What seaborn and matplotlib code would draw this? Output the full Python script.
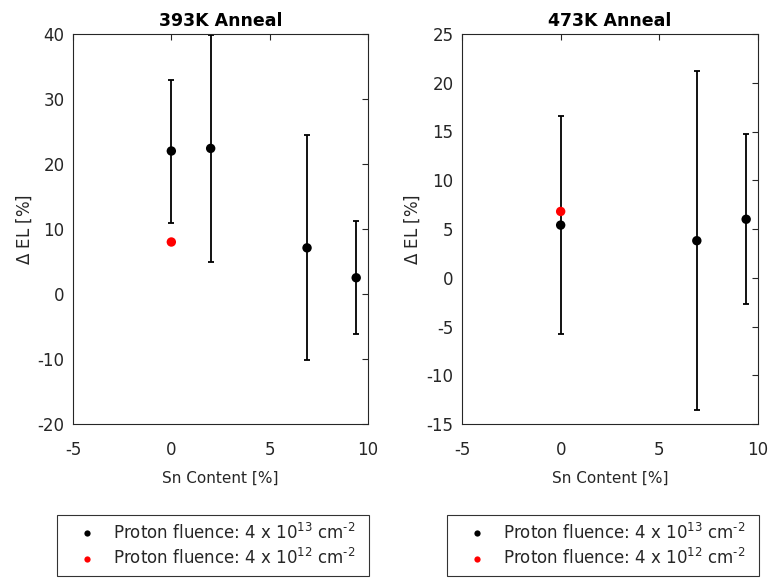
import numpy as np
import pandas as pd
import matplotlib
matplotlib.use("Agg")
import matplotlib.pyplot as plt
import seaborn as sns

# Sn content [%] and change in EL [%] with uncertainties
sn_hi = [0.0, 2.0, 6.9, 9.4]          # samples at 4e13 cm^-2
el_393_hi = [22.0, 22.4, 7.1, 2.5]
err_393_hi = [11.0, 17.5, 17.3, 8.7]
sn_lo = [0.0]                          # sample at 4e12 cm^-2
el_393_lo = [8.0]

sn_hi_473 = [0.0, 6.9, 9.4]
el_473_hi = [5.4, 3.8, 6.0]
err_473_hi = [11.2, 17.4, 8.7]
el_473_lo = [6.8]

titles = ["393K Anneal", "473K Anneal"]
label_hi = r"Proton fluence: 4 x 10$^{13}$ cm$^{\text{-2}}$"
label_lo = r"Proton fluence: 4 x 10$^{12}$ cm$^{\text{-2}}$"
xticks = [-5, 0, 5, 10]
yticks_393 = [-20, -10, 0, 10, 20, 30, 40]
yticks_473 = [-15, -10, -5, 0, 5, 10, 15, 20, 25]

sns.set_theme(style="white")
plt.rcParams["font.family"] = ["DejaVu Sans"]
plt.rcParams["mathtext.default"] = "regular"
plt.rcParams["axes.unicode_minus"] = False

fig = plt.figure(figsize=(7.72, 5.78), dpi=100)
ax1 = fig.add_axes([73 / 772, 1 - 424 / 578, 295 / 772, 390 / 578])
ax2 = fig.add_axes([462 / 772, 1 - 424 / 578, 296 / 772, 390 / 578])

gray = "#262626"
palette = {label_hi: "black", label_lo: "#ff0000"}


def panel(ax, x_hi, y_hi, e_hi, x_lo, y_lo, title, yticks, legend_x):
    df = pd.DataFrame({
        "Sn": list(x_hi) + list(x_lo),
        "dEL": list(y_hi) + list(y_lo),
        "fluence": [label_hi] * len(x_hi) + [label_lo] * len(x_lo),
    })
    ax.errorbar(x_hi, y_hi, yerr=e_hi, fmt="none", ecolor="black",
                elinewidth=1.3, capsize=2.2, capthick=1.3, zorder=2)
    sns.scatterplot(data=df, x="Sn", y="dEL", hue="fluence", palette=palette,
                    s=46, edgecolor="none", ax=ax, zorder=3, legend=True)
    ax.set_xlim(-5, 10)
    ax.set_ylim(yticks[0], yticks[-1])
    ax.set_xticks(xticks)
    ax.set_yticks(yticks)
    ax.set_xlabel("Sn Content [%]", fontsize=11, color=gray, labelpad=9)
    ax.set_ylabel(r"$\Delta$ EL [%]", fontsize=12, color=gray, labelpad=3)
    ax.set_title(title, fontsize=12.5, fontweight="bold", color="black", pad=6)
    ax.tick_params(direction="in", length=4, width=0.8, colors=gray,
                   labelsize=12, top=True, right=True)
    ax.tick_params(axis="x", pad=12)
    ax.tick_params(axis="y", pad=6)
    for sp in ax.spines.values():
        sp.set_color(gray)
        sp.set_linewidth(0.8)
    handles, labels = ax.get_legend_handles_labels()
    ax.get_legend().remove()
    for h in handles:
        if hasattr(h, "set_markersize"):
            h.set_markersize(4.5)
        elif hasattr(h, "set_sizes"):
            h.set_sizes([18])
    leg = fig.legend(handles, labels, loc="lower left",
                     bbox_to_anchor=(legend_x / 772, 2 / 578, 312 / 772, 66 / 578),
                     mode="expand", borderaxespad=0, fontsize=12,
                     frameon=True, fancybox=False, edgecolor="black",
                     handletextpad=0.2, labelspacing=0.35, borderpad=0.45,
                     handlelength=2.7)
    leg.get_frame().set_linewidth(0.8)
    for t in leg.get_texts():
        t.set_color(gray)


panel(ax1, sn_hi, el_393_hi, err_393_hi, sn_lo, el_393_lo, titles[0],
      yticks_393, 57)
panel(ax2, sn_hi_473, el_473_hi, err_473_hi, sn_lo, el_473_lo, titles[1],
      yticks_473, 447)

fig.savefig("out.png", dpi=100, facecolor="white")
